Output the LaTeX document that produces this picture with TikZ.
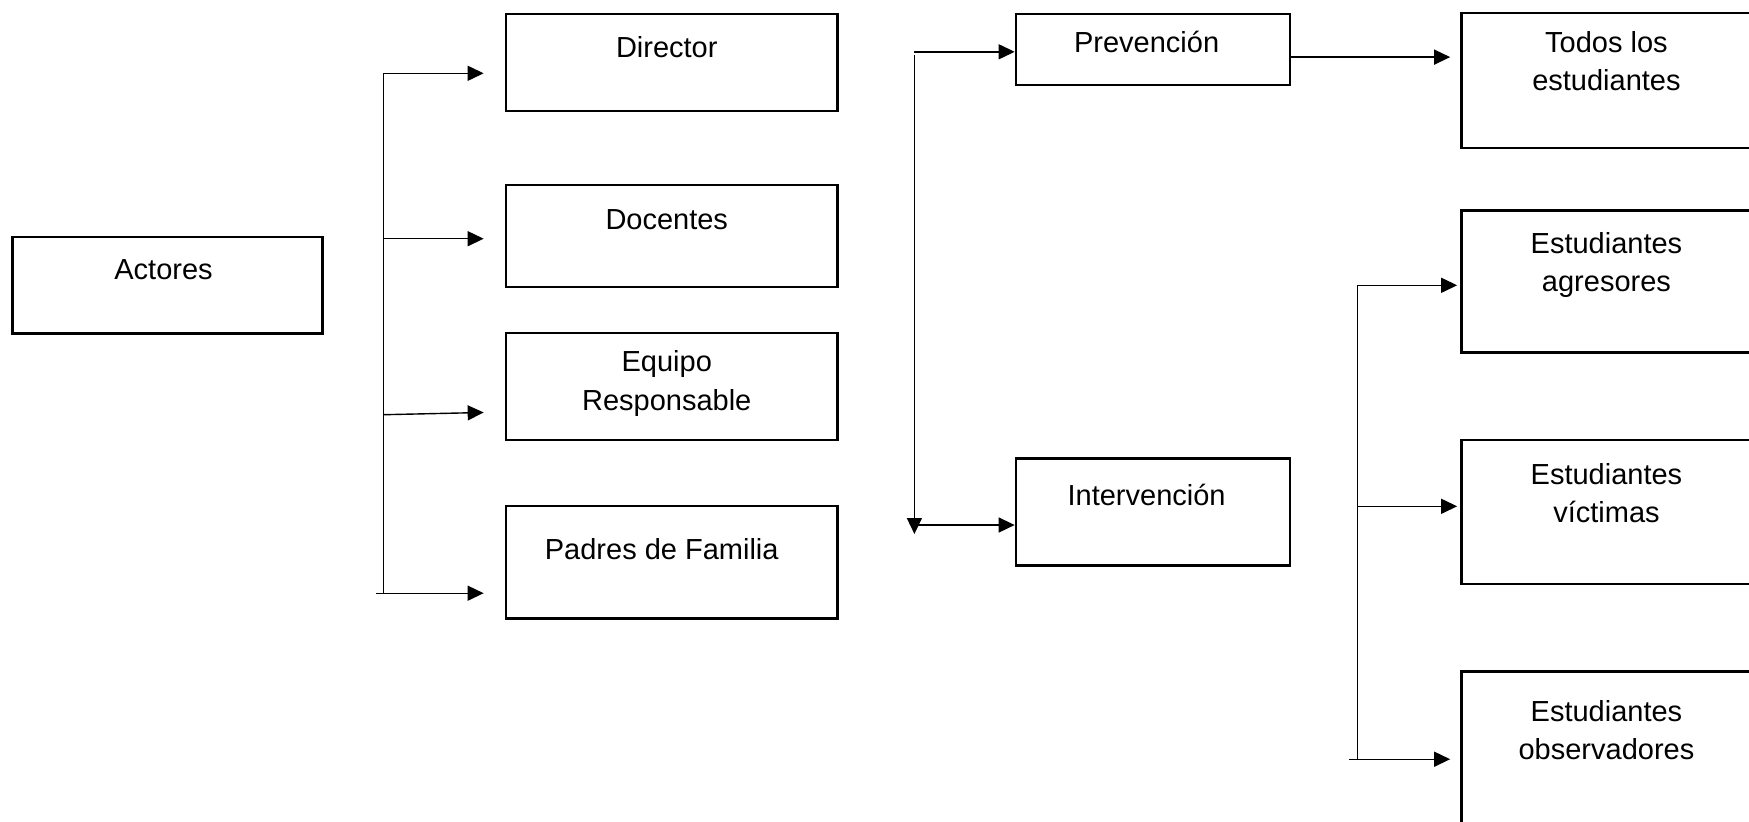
\documentclass[tikz,border=0pt]{standalone}
\usepackage{fontspec}
\setmainfont{Liberation Sans}
\usetikzlibrary{arrows.meta}

\begin{document}
\begin{tikzpicture}[x=0.5pt,y=-0.5pt,
    caja/.style={draw, line width=1.35pt, inner sep=0pt},
    lbl/.style={anchor=north, align=center, inner sep=0pt, text height=0pt,
        font=\fontsize{14.5}{19.2}\selectfont},
    linea/.style={line width=0.7pt},
    flecha/.style={line width=0.7pt, -{Triangle[length=8pt,width=7.5pt]}}]
    \useasboundingbox (0,0) rectangle (1749,821);
    % left column
    \node[caja, minimum width=155pt, minimum height=48.25pt,
        label={[lbl,xshift=-2pt,yshift=-21.5pt]north:Actores}] (act) at (167.5,285.25) {};
    \node[caja, minimum width=165.75pt, minimum height=48.5pt,
        label={[lbl,xshift=-2.5pt,yshift=-21.75pt]north:Director}] (dir) at (671.75,62.5) {};
    \node[caja, minimum width=165.75pt, minimum height=51pt,
        label={[lbl,xshift=-2.5pt,yshift=-22.25pt]north:Docentes}] (doc) at (671.75,236) {};
    \node[caja, minimum width=165.75pt, minimum height=53.5pt,
        label={[lbl,xshift=-2.5pt,yshift=-39.1pt]north:{Equipo\\Responsable}}] (equ) at (671.75,386.5) {};
    \node[caja, minimum width=165.75pt, minimum height=56.25pt,
        label={[lbl,xshift=-5pt,yshift=-27pt]north:Padres de Familia}] (pad) at (671.75,562.25) {};
    % middle column
    \node[caja, minimum width=137pt, minimum height=35.5pt,
        label={[lbl,xshift=-3.2pt,yshift=-19.2pt]north:Prevención}] (prev) at (1153,49.5) {};
    \node[caja, minimum width=137pt, minimum height=53.5pt,
        label={[lbl,xshift=-3.2pt,yshift=-23.4pt]north:Intervención}] (int) at (1153,512) {};
    % right column, cut at the edge
    \node[caja, minimum width=149.75pt, minimum height=67.5pt,
        label={[lbl,xshift=-2.4pt,yshift=-38.9pt]north:{Todos los\\estudiantes}}] (tod) at (1611.25,80.5) {};
    \node[caja, minimum width=149.75pt, minimum height=71pt,
        label={[lbl,xshift=-2.4pt,yshift=-40.95pt]north:{Estudiantes\\agresores}}] (agr) at (1611.25,281.5) {};
    \node[caja, minimum width=149.75pt, minimum height=72pt,
        label={[lbl,xshift=-2.4pt,yshift=-41.45pt]north:{Estudiantes\\víctimas}}] (vic) at (1611.25,512) {};
    \node[caja, minimum width=149.75pt, minimum height=84.25pt,
        label={[lbl,xshift=-2.4pt,yshift=-44.1pt]north:{Estudiantes\\observadores}}] (obs) at (1611.25,755.75) {};

    % actores bracket
    \coordinate (ta) at (383.5,73.3);
    \coordinate (tb) at (383.5,238.7);
    \coordinate (tc) at (383.5,414.7);
    \coordinate (td) at (383.5,593.2);
    \coordinate (te) at (376,593.2);
    \draw[linea] (ta) -- (td);
    \draw[flecha, shorten >=10.5pt] (ta) -- (ta -| dir.west);
    \draw[flecha, shorten >=10.5pt] (tb) -- (tb -| doc.west);
    \draw[flecha, shorten >=10.5pt] (tc) -- ([yshift=1.35pt]tc -| equ.west);
    \draw[flecha, shorten >=10.5pt] (te) -- (te -| pad.west);

    % prevencion / intervencion
    \coordinate (ma) at (914.4,51.8);
    \coordinate (mb) at (914.4,55);
    \coordinate (mc) at (914.4,534);
    \coordinate (md) at (914.4,525);
    \draw[flecha] (mb) -- (mc);
    \draw[flecha] (ma) -- (ma -| prev.west);
    \draw[flecha] (md) -- (md -| int.west);
    \draw[flecha, shorten >=5pt] ([yshift=-3.8pt]prev.east) -- ([yshift=-3.8pt]prev.east -| tod.west);

    % estudiantes bracket
    \coordinate (ra) at (1357.3,285.3);
    \coordinate (rb) at (1357.3,506.3);
    \coordinate (rc) at (1357.3,759.2);
    \coordinate (rd) at (1349,759.2);
    \draw[linea] (ra) -- (rc);
    \draw[flecha, shorten >=1.5pt] (ra) -- (ra -| agr.west);
    \draw[flecha, shorten >=1.5pt] (rb) -- (rb -| vic.west);
    \draw[flecha, shorten >=5pt] (rd) -- (rd -| obs.west);
\end{tikzpicture}
\end{document}
